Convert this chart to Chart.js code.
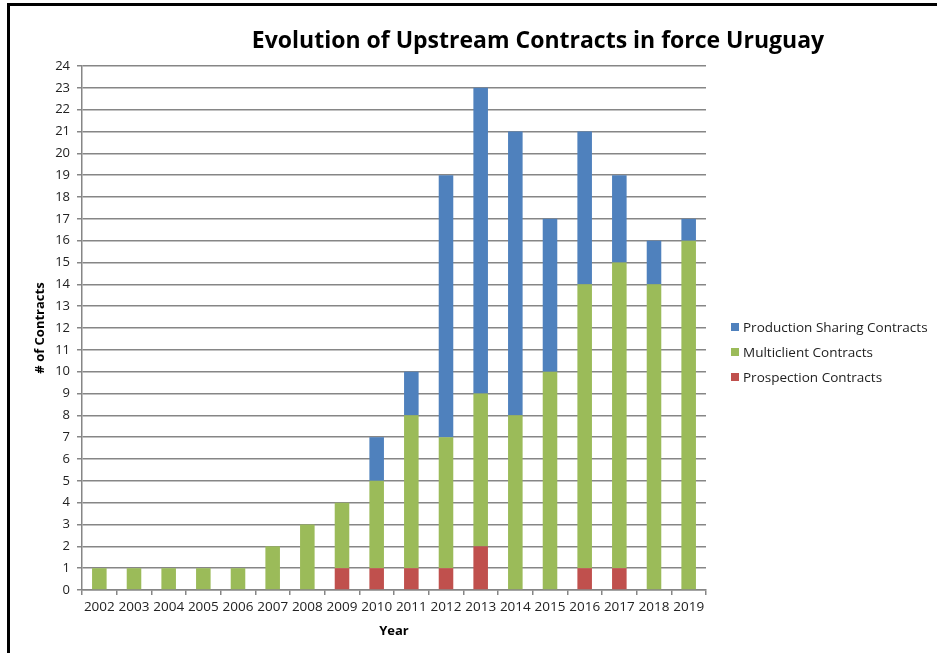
<!DOCTYPE html>
<html>
<head>
<meta charset="utf-8">
<script src="https://cdn.jsdelivr.net/npm/chart.js@4/dist/chart.umd.min.js"></script>
<style>
  html, body { margin: 0; padding: 0; background: #fff; }
  #wrap { position: relative; width: 937px; height: 653px; }
</style>
</head>
<body>
<div id="wrap"><canvas id="c"></canvas></div>
<script>
const years = ['2002','2003','2004','2005','2006','2007','2008','2009','2010','2011','2012','2013','2014','2015','2016','2017','2018','2019'];
const prospection = [0,0,0,0,0,0,0,1,1,1,1,2,0,0,1,1,0,0];
const multiclient = [1,1,1,1,1,2,3,3,4,7,6,7,8,10,13,14,14,16];
const productionSharing = [0,0,0,0,0,0,0,0,2,2,12,14,13,7,7,4,2,1];
const yTicks = [0,1,2,3,4,5,6,7,8,9,10,11,12,13,14,15,16,17,18,19,20,21,22,23,24];

const titleText = 'Evolution of Upstream Contracts in force Uruguay';
const FONT = '"Open Sans", Lato, sans-serif';

const framePlugin = {
  id: 'frame',
  beforeDraw(chart) {
    const ctx = chart.ctx;
    ctx.save();
    ctx.fillStyle = '#fff';
    ctx.fillRect(0, 0, chart.width, chart.height);
    ctx.fillStyle = '#000';
    ctx.fillRect(7, 3, chart.width - 7, 3);
    ctx.fillRect(7, 3, 3, chart.height - 3);
    ctx.restore();
  },
  afterDraw(chart) {
    const ctx = chart.ctx;
    ctx.save();
    ctx.font = 'bold 23px ' + FONT;
    ctx.fillStyle = '#000';
    ctx.textAlign = 'center';
    ctx.textBaseline = 'middle';
    ctx.fillText(titleText, 538, 41);
    ctx.font = '13.5px ' + FONT;
    ctx.textAlign = 'left';
    const ds = chart.data.datasets.slice().reverse();
    ds.forEach((d, i) => {
      const y = 327 + i * 25;
      ctx.fillStyle = d.backgroundColor;
      ctx.fillRect(731, y - 4, 8, 8);
      ctx.fillStyle = '#222';
      ctx.fillText(d.label, 743, y + 1);
    });
    ctx.restore();
  }
};

new Chart(document.getElementById('c'), {
  type: 'bar',
  data: {
    labels: years,
    datasets: [
      { label: 'Prospection Contracts', data: prospection, backgroundColor: '#C0504D' },
      { label: 'Multiclient Contracts', data: multiclient, backgroundColor: '#9BBB59' },
      { label: 'Production Sharing Contracts', data: productionSharing, backgroundColor: '#4F81BD' }
    ]
  },
  options: {
    responsive: true,
    maintainAspectRatio: false,
    animation: false,
    devicePixelRatio: 1,
    layout: { padding: { left: 32, top: 66, right: 231, bottom: 0 } },
    datasets: { bar: { categoryPercentage: 1.0, barPercentage: 0.42 } },
    plugins: {
      legend: { display: false },
      title: { display: false },
      tooltip: { enabled: false }
    },
    scales: {
      x: {
        stacked: true,
        grid: { display: true, drawOnChartArea: false, offset: true, color: '#868686', lineWidth: 1.5, tickLength: 5 },
        border: { display: true, color: '#868686', width: 1.5 },
        ticks: { color: '#222', font: { family: FONT, size: 13.5 }, padding: 4, maxRotation: 0, autoSkip: false },
        title: { display: true, text: 'Year', color: '#000', font: { family: FONT, size: 13, weight: 'bold' }, padding: { top: 6, bottom: 14 } },
        afterFit(s) { s.height = 63; }
      },
      y: {
        stacked: true,
        min: 0, max: 24,
        afterBuildTicks(s) { s.ticks = yTicks.map(v => ({ value: v })); },
        grid: { color: '#868686', lineWidth: 1.5, tickLength: 5 },
        border: { display: true, color: '#868686', width: 1.5 },
        ticks: { color: '#222', font: { family: FONT, size: 13 }, padding: 7, autoSkip: false },
        title: { display: true, text: '# of Contracts', color: '#000', font: { family: FONT, size: 13, weight: 'bold' }, padding: { top: 0, bottom: 0 } },
        afterFit(s) { s.width = 50; }
      }
    }
  },
  plugins: [framePlugin]
});
</script>
</body>
</html>
